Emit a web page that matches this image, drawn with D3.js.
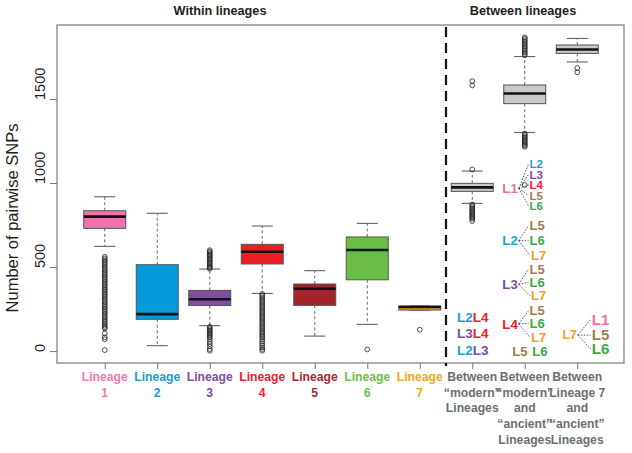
<!DOCTYPE html>
<html><head><meta charset="utf-8">
<script src="https://cdn.jsdelivr.net/npm/d3@7/dist/d3.min.js"></script>
<style>body{margin:0;background:#fff} text{font-family:"Liberation Sans",Arial,Helvetica,sans-serif}</style>
</head><body><svg id="c" width="632" height="453"></svg>
<script>
// ---------- data ----------
const categories = ["Lineage 1","Lineage 2","Lineage 3","Lineage 4","Lineage 5","Lineage 6","Lineage 7","Modern","Modern-Ancient","L7-Ancient"];
const xLabels = [["Lineage","1"],["Lineage","2"],["Lineage","3"],["Lineage","4"],["Lineage","5"],["Lineage","6"],["Lineage","7"],
  ["Between","\u201Cmodern\u201D","Lineages"],["Between","\u201Cmodern\u201D","and","\u201Cancient\u201D","Lineages"],["Between","Lineage 7","and","\u201Cancient\u201D","Lineages"]];
const whiskLo = [623, 32, 151, 343, 89, 159, 244, 879, 1301, 1720];
const q1      = [730, 189, 271, 518, 272, 424, 244, 950, 1472, 1771];
const medians = [800, 220, 308, 591, 371, 601, 262, 974, 1532, 1794];
const q3      = [835, 514, 361, 635, 399, 679, 268, 998, 1583, 1821];
const whiskHi = [918, 820, 488, 744, 478, 760, 268, 1071, 1752, 1860];
const outliers = [
  [561,551,541,531,521,511,501,491,481,471,461,451,441,431,421,411,401,391,381,371,361,351,341,331,321,311,301,291,281,271,261,251,241,231,221,211,201,191,181,171,161,151,141,135,105,82,70,6],
  [],
  [600,592,584,576,568,560,552,544,536,528,520,512,504,496,490,145,137,129,121,113,105,97,89,81,70,55,42,28,12,2],
  [340,330,320,310,300,290,280,270,260,250,240,230,220,210,200,190,180,170,160,150,140,130,120,110,100,90,82,70,58,46,34,22,12,2],
  [],
  [10],
  [127],
  [1606,1580,1081,872,864,856,848,840,832,824,816,808,800,793,786,773],
  [1867,1858,1849,1840,1831,1822,1813,1804,1795,1786,1777,1768,1760,1294,1286,1278,1270,1262,1254,1246,1238,1230,1223,1216,988],
  [1684,1659]
];
const yTicks = [0, 500, 1000, 1500];
const boxColors = ["#F074AC","#0499DB","#7F4EA0","#EC1D25","#A1252B","#6ABD45","#F6A11C","#C8C8C8","#C8C8C8","#C8C8C8"];
const labelColors = ["#F07AB0","#1A9AD6","#7D4F9E","#E8202A","#A52A2E","#6CBE45","#F5A623","#6D6E71","#6D6E71","#6D6E71"];
const panelTitles = ["Within lineages","Between lineages"];
// annotation label colours
const tagColors = {L1:"#EE6FA8",L2:"#1CA0DB",L3:"#7E4C9F",L4:"#EC1C24",L5:"#A27B52",L6:"#3AAA48",L7:"#F6A01A"};
// "modern" pairs (column 8): [first, second, value]
const modernPairs = [["L2","L4",204],["L3","L4",107],["L2","L3",8]];
// modern-ancient fans (column 9)
const fanHubs = ["L1","L2","L3","L4"];
const fanHubValues = [968, 657, 397, 162];
const fanTargets = [["L2","L3","L4","L5","L6"],["L5","L6","L7"],["L5","L6","L7"],["L5","L6","L7"]];
const fanTargetValues = [[1113,1051,988,925,863],[746,657,570],[488,409,329],[240,165,82]];
const extraPair = ["L5","L6",-2];
// L7-ancient fan (column 10)
const l7Hub = "L7", l7HubValue = 95;
const l7Targets = ["L1","L5","L6"], l7TargetValues = [190, 95, 12];

// ---------- layout ----------
const plot = {left:57, right:624, top:25, bottom:363};
const svg = d3.select("#c");
const x = d3.scaleLinear().domain([0.1, 10.9]).range([plot.left + 0.5, plot.right + 0.5]);
const y = d3.scaleLinear().domain([-71, 1940]).range([plot.bottom, plot.top]);
const boxW = x(0.8) - x(0);
const capW = boxW / 2;

// titles
svg.selectAll("text.ptitle").data(panelTitles).join("text")
  .attr("class","ptitle")
  .attr("x",(d,i)=> i===0 ? 220 : 523).attr("y",15)
  .attr("text-anchor","middle").attr("font-weight","bold").attr("font-size",12.7).attr("fill","#231F20")
  .text(d=>d);

// plot frame
svg.append("rect").attr("x",plot.left).attr("y",plot.top)
  .attr("width",plot.right-plot.left).attr("height",plot.bottom-plot.top)
  .attr("fill","none").attr("stroke","#7a7a7a").attr("stroke-width",1.2);

// y axis
const yAxis = d3.axisLeft(y).tickValues(yTicks).tickSize(7).tickFormat("");
const ya = svg.append("g").attr("transform",`translate(${plot.left},0)`).call(yAxis);
ya.select(".domain").remove();
ya.selectAll(".tick line").attr("stroke","#7a7a7a");
svg.selectAll("text.ytl").data(yTicks).join("text").attr("class","ytl")
  .attr("transform",d=>`translate(45,${y(d)+1}) rotate(-90)`)
  .attr("text-anchor","start").attr("font-size",14.5).attr("fill","#231F20").text(d=>d);
svg.append("text").attr("transform","translate(18,218) rotate(-90)")
  .attr("text-anchor","middle").attr("font-size",16.5).attr("fill","#231F20").text("Number of pairwise SNPs");

// x axis ticks
const idx = d3.range(1, categories.length + 1);
const xAxis = d3.axisBottom(x).tickValues(idx).tickSize(6).tickFormat("");
const xa = svg.append("g").attr("transform",`translate(0,${plot.bottom})`).call(xAxis);
xa.select(".domain").remove();
xa.selectAll(".tick line").attr("stroke","#7a7a7a");
// x labels
const xl = svg.selectAll("g.xl").data(xLabels).join("g").attr("class","xl");
xl.each(function(lines,i){
  d3.select(this).selectAll("text").data(lines).join("text")
    .attr("x", x(i+1)).attr("y",(d,j)=>381 + j*15.7)
    .attr("text-anchor","middle").attr("font-weight","bold").attr("font-size",12.2)
    .attr("fill",labelColors[i]).text(d=>d);
});

// divider
svg.append("line").attr("x1",x(7.5)).attr("x2",x(7.5)).attr("y1",plot.top+2).attr("y2",plot.bottom+3)
  .attr("stroke","#111").attr("stroke-width",2.2).attr("stroke-dasharray","10,6");

// boxes
const boxes = svg.selectAll("g.box").data(categories).join("g").attr("class","box");
boxes.each(function(c,i){
  const g = d3.select(this), cx = x(i+1);
  g.append("line").attr("x1",cx).attr("x2",cx).attr("y1",y(q3[i])).attr("y2",y(whiskHi[i]))
    .attr("stroke","#555").attr("stroke-dasharray","3,2.5").attr("stroke-width",0.9);
  g.append("line").attr("x1",cx).attr("x2",cx).attr("y1",y(q1[i])).attr("y2",y(whiskLo[i]))
    .attr("stroke","#555").attr("stroke-dasharray","3,2.5").attr("stroke-width",0.9);
  [whiskHi[i], whiskLo[i]].forEach(v=>{
    g.append("line").attr("x1",cx-capW/2).attr("x2",cx+capW/2).attr("y1",y(v)).attr("y2",y(v))
      .attr("stroke","#555").attr("stroke-width",1);
  });
  g.append("rect").attr("x",cx-boxW/2).attr("width",boxW)
    .attr("y",y(q3[i])).attr("height",Math.max(1,y(q1[i])-y(q3[i])))
    .attr("fill",boxColors[i]).attr("stroke","#555").attr("stroke-width",1);
  g.append("line").attr("x1",cx-boxW/2).attr("x2",cx+boxW/2).attr("y1",y(medians[i])).attr("y2",y(medians[i]))
    .attr("stroke","#111").attr("stroke-width",2.6);
  g.selectAll("circle").data(outliers[i]).join("circle")
    .attr("cx",cx).attr("cy",d=>y(d)).attr("r",2.4)
    .attr("fill","none").attr("stroke","#222").attr("stroke-width",0.8);
});

// ---------- annotations ----------
const ann = svg.append("g").attr("font-weight","bold");
function tag(tx, ty, t, anchor, size){
  return ann.append("text").attr("x",tx).attr("y",ty).attr("dy","0.36em")
    .attr("text-anchor",anchor).attr("font-size",size).attr("fill",tagColors[t]).text(t);
}
function link(x1,y1,x2,y2){
  ann.append("line").attr("x1",x1).attr("y1",y1).attr("x2",x2).attr("y2",y2)
    .attr("stroke","#333").attr("stroke-width",0.8).attr("stroke-dasharray","1.6,1.4");
}
modernPairs.forEach(p=>{
  tag(x(8)+0.5, y(p[2]), p[0], "end", 13.6);
  tag(x(8)+0.5, y(p[2]), p[1], "start", 13.6);
});
fanHubs.forEach((h,k)=>{
  const hx = x(9) - 7, hy = y(fanHubValues[k]);
  const fs = k === 0 ? 11.5 : 13;
  tag(hx, hy, h, "end", 13.2);
  fanTargets[k].forEach((t,j)=>{
    const ty = y(fanTargetValues[k][j]);
    const tx = x(9) + 4.8 + (t==="L7" && k>0 ? 1.5 : 0);
    tag(tx, ty, t, "start", fs);
    link(hx+1, hy, tx-1, ty);
  });
});
tag(x(9)+2.8, y(extraPair[2]), extraPair[0], "end", 13.2);
tag(x(9)+7.5, y(extraPair[2]), extraPair[1], "start", 13.2);
{
  const hx = x(10) - 0.5, hy = y(l7HubValue);
  tag(hx, hy, l7Hub, "end", 12.2);
  l7Targets.forEach((t,j)=>{
    const ty = y(l7TargetValues[j]);
    tag(x(10)+14.5, ty, t, "start", 15);
    link(hx+1, hy, x(10)+13.5, ty);
  });
}
</script></body></html>
